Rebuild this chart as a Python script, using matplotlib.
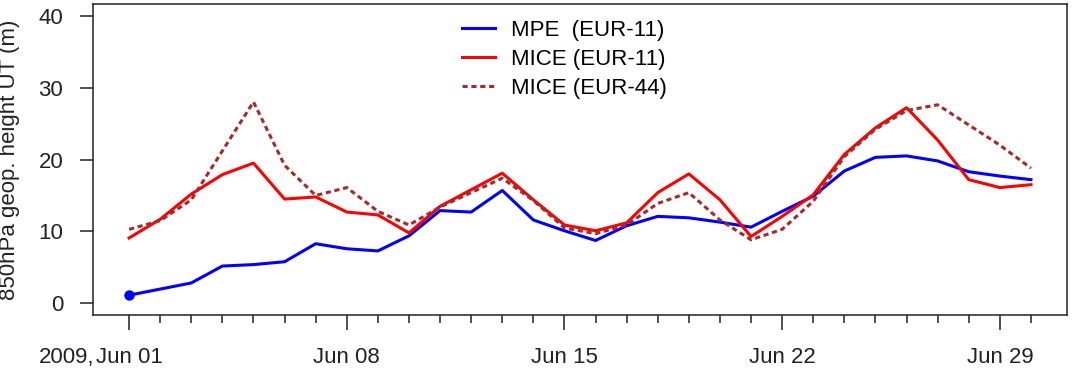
import numpy as np
import matplotlib
matplotlib.use('Agg')
import matplotlib.pyplot as plt
import matplotlib.dates as mdates

plt.rcParams['font.family'] = ['Liberation Sans', 'DejaVu Sans']

# daily values, June 2009
days = np.arange('2009-06-01', '2009-07-01', dtype='datetime64[D]')
mpe_11 = [1.15, 2.0, 2.85, 5.2, 5.4, 5.8, 8.3, 7.6, 7.3, 9.4,
          12.9, 12.7, 15.7, 11.6, 10.1, 8.75, 10.8, 12.1, 11.9, 11.3,
          10.6, 12.8, 14.9, 18.4, 20.3, 20.5, 19.8, 18.3, 17.7, 17.2]
mice_11 = [9.1, 11.7, 15.2, 17.9, 19.5, 14.5, 14.8, 12.7, 12.3, 9.8,
           13.5, 15.8, 18.1, 14.4, 10.9, 10.1, 11.2, 15.4, 18.0, 14.4,
           9.3, 12.1, 15.1, 20.7, 24.4, 27.2, 22.7, 17.2, 16.1, 16.5]
mice_44 = [10.3, 11.5, 14.4, 21.2, 28.0, 19.2, 15.0, 16.1, 12.8, 10.9,
           13.4, 15.4, 17.4, 14.3, 10.5, 9.7, 10.9, 13.9, 15.4, 11.6,
           8.85, 10.3, 14.2, 20.4, 24.2, 26.8, 27.6, 24.8, 22.0, 18.8]
labels = ['MPE  (EUR-11)', 'MICE (EUR-11)', 'MICE (EUR-44)']
major_days = [0, 7, 14, 21, 28]

W, H = 1074, 378
fig = plt.figure(figsize=(W / 100, H / 100), dpi=100)
ax = fig.add_axes([93 / W, 1 - 315 / H, (1067 - 93) / W, (315 - 4) / H])

x = days.astype(object)
ax.plot(x, mpe_11, color='#0000FF', lw=2.2, label=labels[0])
ax.plot(x, mice_11, color='#FF0000', lw=2.2, label=labels[1])
ax.plot(x, mice_44, color='#A52A2A', lw=2.2, dashes=(1.7, 1.2), label=labels[2])
ax.plot(x[0], mpe_11[0], 'o', color='#0000FF', ms=6.5)

xn = mdates.date2num(x)
ax.set_xlim(xn[0] - 1.16, xn[-1] + 1.16)
ax.set_ylim(-1.6, 41.6)

ax.set_xticks(xn[major_days])
ax.set_xticklabels([x[i].strftime('%b %d') for i in major_days])
ax.set_xticks(xn, minor=True)
ax.set_yticks([0, 10, 20, 30, 40])

ax.tick_params(axis='x', which='major', length=11, width=1.1, pad=12,
               labelsize=16, colors='#222222')
ax.tick_params(axis='x', which='minor', length=5.5, width=1.1, colors='#222222')
ax.tick_params(axis='y', length=9.4, width=1.1, pad=12, labelsize=16,
               colors='#222222')
for s in ax.spines.values():
    s.set_linewidth(1.1)
    s.set_color('#222222')

# year prefix in front of the first date label
ax.annotate('2009,', xy=(94 / W, 0), xycoords=('figure fraction', 'axes fraction'),
            xytext=(0, -23), textcoords='offset points', ha='right', va='top',
            fontsize=16, color='#222222')
ax.set_ylabel('850hPa geop. height UT (m)', fontsize=16, color='#222222')
ax.yaxis.set_label_coords(-(93 - 20) / (1067 - 93), 0.5)

ax.legend(loc='upper left', bbox_to_anchor=(462 / W, 1 - 20 / H),
          bbox_transform=fig.transFigure, frameon=False, fontsize=16,
          handlelength=1.5, handletextpad=0.7, labelspacing=0.35,
          borderpad=0, borderaxespad=0)

fig.savefig('out.png', dpi=100)
